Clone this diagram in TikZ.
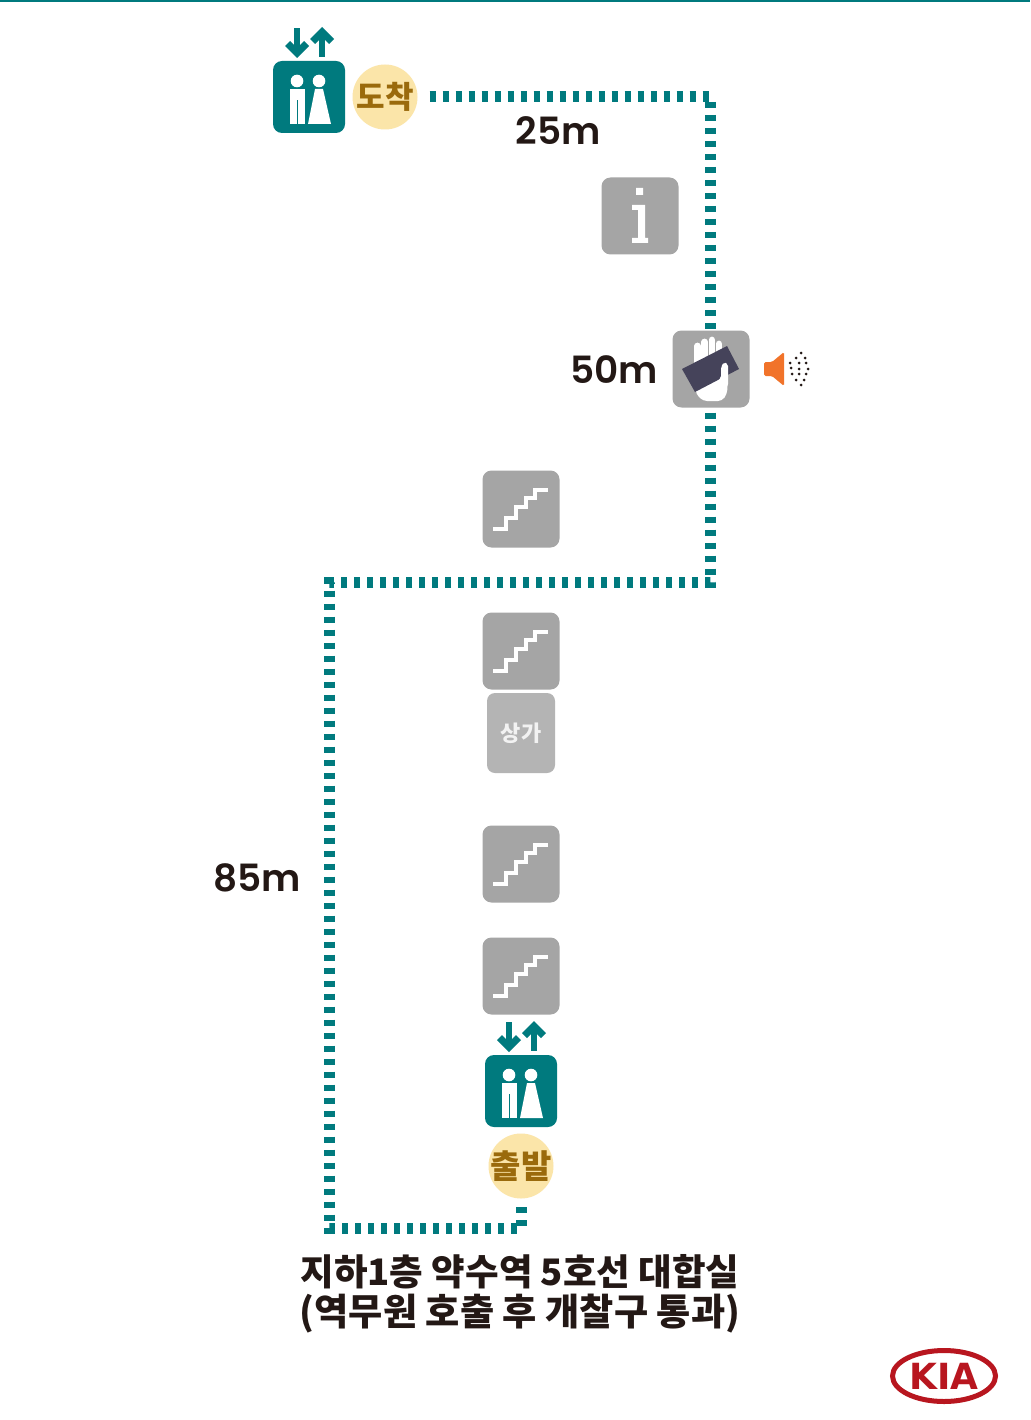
\documentclass[tikz,border=0pt]{standalone}
\usepackage{fontspec}
\usetikzlibrary{calc, shapes.geometric}
\setmainfont{Noto Sans CJK KR}
\newfontfamily\unitfont{Poppins SemiBold}
\newfontfamily\logofont{DejaVu Sans}
\definecolor{routeteal}{HTML}{007A7E}
\definecolor{signgray}{HTML}{A5A5A5}
\definecolor{shopgray}{HTML}{B4B4B4}
\definecolor{badgecream}{HTML}{FBE5A9}
\definecolor{badgebrown}{HTML}{9A6A0C}
\definecolor{inkdark}{HTML}{231815}
\definecolor{cardslate}{HTML}{45435A}
\definecolor{speakerorange}{HTML}{F1732A}
\definecolor{logored}{HTML}{B8161F}
\tikzset{
  pics/liftsign/.style={code={
    \fill[white] (-12,-16) circle (6.3) (10,-16) circle (6.3);
    \fill[white] (-19,-8) rectangle (-4,27);
    \fill[routeteal] (-12,3) rectangle (-11,27);
    \fill[white] (6,-8) -- (14,-8) -- (22,27) -- (-1,27) -- cycle;
    \fill[routeteal] (-15,-69) rectangle (-9,-48);
    \fill[routeteal] (-24,-51) -- (-12,-39) -- (0,-51) -- (-5,-56) -- (-12,-49) -- (-19,-56) -- cycle;
    \fill[routeteal] (10,-62) rectangle (16,-40);
    \fill[routeteal] (1,-58) -- (13,-70) -- (25,-58) -- (20,-53) -- (13,-60) -- (6,-53) -- cycle;
  }},
  pics/stairsign/.style={code={
    \draw[white, line width=4.8pt] (-28,20) -- (-15,20) -- (-15,9) -- (-5,9) -- (-5,-2) -- (5,-2) -- (5,-11) -- (14,-11) -- (14,-19) -- (27,-19);
  }}
}
\begin{document}
\begin{tikzpicture}[x=1pt, y=-1pt,
  route/.style={routeteal, line width=11pt, dash pattern=on 6pt off 7pt},
  signbox/.style={fill=signgray, rounded corners=9pt, minimum size=77pt, inner sep=0pt, outer sep=0pt},
  liftbox/.style={fill=routeteal, rounded corners=9pt, minimum size=72pt, inner sep=0pt, outer sep=0pt},
  badge/.style={circle, fill=badgecream, text=badgebrown, minimum size=65pt, inner sep=0pt, outer sep=0pt, font=\fontsize{31}{31}\selectfont\bfseries},
  meters/.style={text=inkdark, inner sep=0pt, font=\fontsize{37.5}{37.5}\unitfont\selectfont},
  caption/.style={text=inkdark, inner sep=0pt},
  fingerline/.style={white, line width=6.8pt, line cap=round}]
  \useasboundingbox (0,0) rectangle (1030,1420);
  \fill[white] (0,0) rectangle (1030,1420);
  \fill[routeteal] (0,0) rectangle (1030,2);

  \node[liftbox] (liftTop) at (309,97) {};
  \node[badge] (arriveBadge) at (385,97) {\makebox[0pt]{도착}};
  \node[signbox] (infoSign) at (640,216) {};
  \node[signbox] (gateSign) at (711,369) {};
  \node[signbox] (stairsOne) at (521,509) {};
  \node[signbox] (stairsTwo) at (521,651) {};
  \node[fill=shopgray, rounded corners=8pt, minimum width=68pt, minimum height=80pt, inner sep=0pt, text=white!90!gray, font=\fontsize{22}{22}\selectfont\bfseries] (shopSign) at (521,733) {\raisebox{2pt}{상가}};
  \node[signbox] (stairsThree) at (521,864) {};
  \node[signbox] (stairsFour) at (521,976) {};
  \node[liftbox] (liftBottom) at (521,1091) {};
  \node[badge, font=\fontsize{33}{33}\selectfont\bfseries] (departBadge) at (521,1166) {\makebox[0pt]{출발}};

  \coordinate (turnTop) at (710.5,97);
  \coordinate (turnMiddle) at (710.5,582);
  \coordinate (turnLeft) at (329.5,582);
  \coordinate (turnBottom) at (329.5,1228);
  \coordinate (turnEnd) at (521.5,1228);
  \draw[route] ([xshift=12pt]arriveBadge.east) -- (turnTop) -- (turnTop |- gateSign.north);
  \draw[route] ([yshift=-5pt]turnTop |- gateSign.south) -- (turnMiddle) -- (turnLeft) -- (turnBottom) -- (turnEnd) -- ([yshift=-8pt]turnEnd |- departBadge.south);

  \foreach \liftname in {liftTop, liftBottom}
    \pic at (\liftname) {liftsign};
  \foreach \stairname in {stairsOne, stairsTwo, stairsThree, stairsFour}
    \pic at (\stairname) {stairsign};

  \fill[white] (636,188) rectangle (643,195) (632,205) rectangle (645,210) (638,205) rectangle (645,240) (632,238) rectangle (648,243);

  \foreach \fingerx/\fingertop in {697.5/346, 704.7/342, 711.9/340, 718.9/344}
    \draw[fingerline] (\fingerx,\fingertop) -- (\fingerx,372);
  \fill[white, rounded corners=4pt] (694,365) -- (722,365) -- (728,378) -- (727,394) -- (722,401) -- (703,401) -- (696,394) -- cycle;
  \fill[cardslate] (682,369) -- (727,346) -- (739,369) -- (695,392) -- cycle;
  \fill[white, rounded corners=2pt] (721,367) -- (724,362) -- (728,364) -- (728,386) -- (712,386) -- (721,378) -- cycle;

  \fill[speakerorange, rounded corners=1.5pt] (764,362) -- (772,362) -- (784,352) -- (784,386) -- (772,376) -- (764,376) -- cycle;
  \foreach \dotx/\doty in {2/-16, -3/-11, 6/-11, -9/-6, 0/-6, 7/-6, -8/-1, 0/0, 9/0, -7/5, 0/5, 7/5, -3/11, 5/11, 2/16}
    \fill[inkdark] ($(799,369)+(\dotx,\doty)$) circle (1.5);

  \node[meters] (metersTop) at (558,131) {25m};
  \node[meters] (metersGate) at (614,370) {50m};
  \node[meters] (metersLeft) at (257,878) {85m};
  \node[caption, font=\fontsize{36.5}{36.5}\selectfont\bfseries] (captionOne) at (520,1272) {지하1층 약수역 5호선 대합실};
  \node[caption, font=\fontsize{37.2}{37.2}\selectfont\bfseries] (captionTwo) at (520,1314) {(역무원 호출 후 개찰구 통과)};

  \node[ellipse, draw=logored, fill=white, line width=5pt, minimum width=103pt, minimum height=51pt, inner sep=0pt, text=logored, font=\fontsize{36}{36}\logofont\selectfont\bfseries] (kiaLogo) at (944,1376) {KIA};
\end{tikzpicture}
\end{document}
